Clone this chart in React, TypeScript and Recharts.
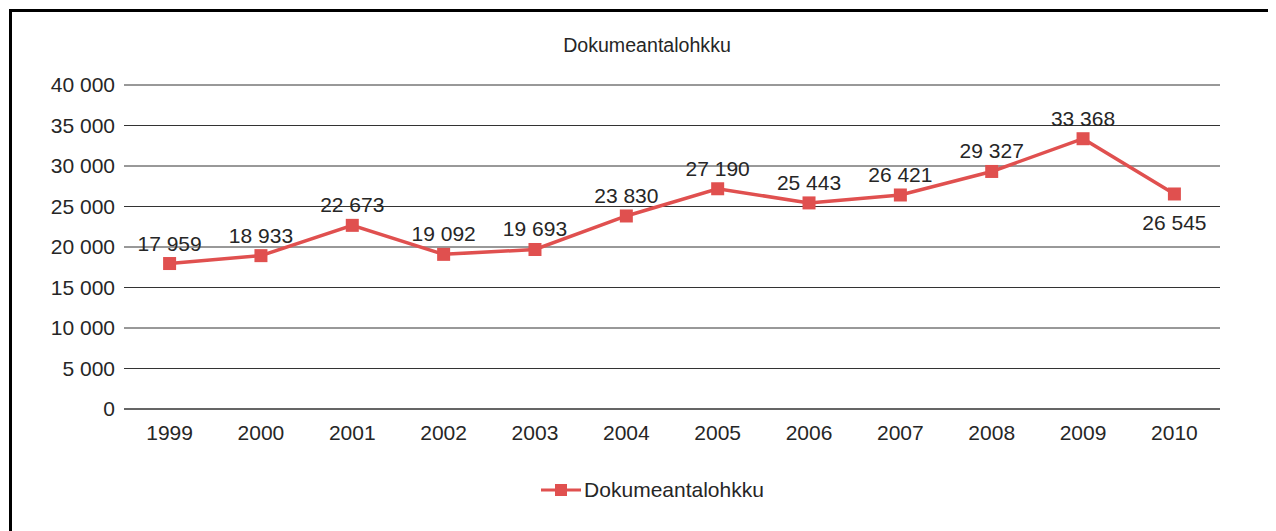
import { LineChart, Line, XAxis, YAxis, CartesianGrid, Legend, LabelList } from 'recharts';

const years = ['1999', '2000', '2001', '2002', '2003', '2004', '2005', '2006', '2007', '2008', '2009', '2010'];
const documents = [17959, 18933, 22673, 19092, 19693, 23830, 27190, 25443, 26421, 29327, 33368, 26545];
const yTicks = [0, 5000, 10000, 15000, 20000, 25000, 30000, 35000, 40000];

const seriesName = 'Dokumeantalohkku';
const lineColor = '#e0504f';
const textColor = '#262626';
const font = '"Liberation Sans", Arial, sans-serif';

const chartData = years.map((year, i) => ({ year, value: documents[i] }));

const fmt = (v: number) => String(v).replace(/\B(?=(\d{3})+(?!\d))/g, ' ');

function Square(props: any) {
  const { cx, cy } = props;
  if (cx == null || cy == null) return null;
  return <rect x={cx - 6.5} y={cy - 6.5} width={13} height={13} fill={lineColor} />;
}

function ValueLabel(props: any) {
  const { x, y, value, index } = props;
  const below = index === documents.length - 1;
  return (
    <text
      x={x}
      y={below ? y + 36 : y - 13}
      textAnchor="middle"
      fontSize={21}
      fill={textColor}
      fontFamily={font}
    >
      {fmt(value)}
    </text>
  );
}

function LegendContent() {
  return (
    <div style={{ display: 'flex', alignItems: 'center', justifyContent: 'center', fontFamily: font, fontSize: 21, color: textColor, paddingRight: 12 }}>
      <svg width={42} height={14} style={{ marginRight: 2 }}>
        <line x1={1} y1={7} x2={41} y2={7} stroke={lineColor} strokeWidth={3} />
        <rect x={15} y={1} width={12} height={12} fill={lineColor} />
      </svg>
      <span>{seriesName}</span>
    </div>
  );
}

export default function App() {
  return (
    <div style={{ position: 'relative', width: 1268, height: 523, overflow: 'hidden', background: '#fff' }}>
      <div
        style={{
          position: 'absolute',
          left: 1,
          top: 1,
          width: 1400,
          height: 600,
          borderLeft: '3px solid #000',
          borderTop: '3px solid #000',
        }}
      />
      <div
        style={{
          position: 'absolute',
          top: 26,
          left: 0,
          width: 1278,
          textAlign: 'center',
          fontFamily: font,
          fontSize: 19.6,
          color: textColor,
        }}
      >
        {seriesName}
      </div>
      <LineChart
        width={1268}
        height={523}
        data={chartData}
        margin={{ top: 77, right: 56, left: 0, bottom: 58 }}
        style={{ position: 'absolute', left: 0, top: 0 }}
      >
        <CartesianGrid vertical={false} stroke="#333" strokeWidth={1} />
        <XAxis
          dataKey="year"
          axisLine={{ stroke: '#333' }}
          tickLine={false}
          tick={{ fontSize: 21, fill: textColor, fontFamily: font }}
          height={40}
          tickMargin={10}
          padding={{ left: 45.6, right: 45.6 }}
        />
        <YAxis
          domain={[0, 40000]}
          ticks={yTicks}
          width={116}
          axisLine={false}
          tickLine={false}
          tickFormatter={fmt}
          tick={{ fontSize: 21, fill: textColor, fontFamily: font }}
          tickMargin={3}
        />
        <Legend
          verticalAlign="bottom"
          content={<LegendContent />}
          wrapperStyle={{ left: 0, width: 1300, bottom: 29 }}
        />
        <Line
          type="linear"
          dataKey="value"
          name={seriesName}
          stroke={lineColor}
          strokeWidth={3.5}
          dot={<Square />}
          activeDot={false}
          isAnimationActive={false}
        >
          <LabelList dataKey="value" content={<ValueLabel />} />
        </Line>
      </LineChart>
    </div>
  );
}
